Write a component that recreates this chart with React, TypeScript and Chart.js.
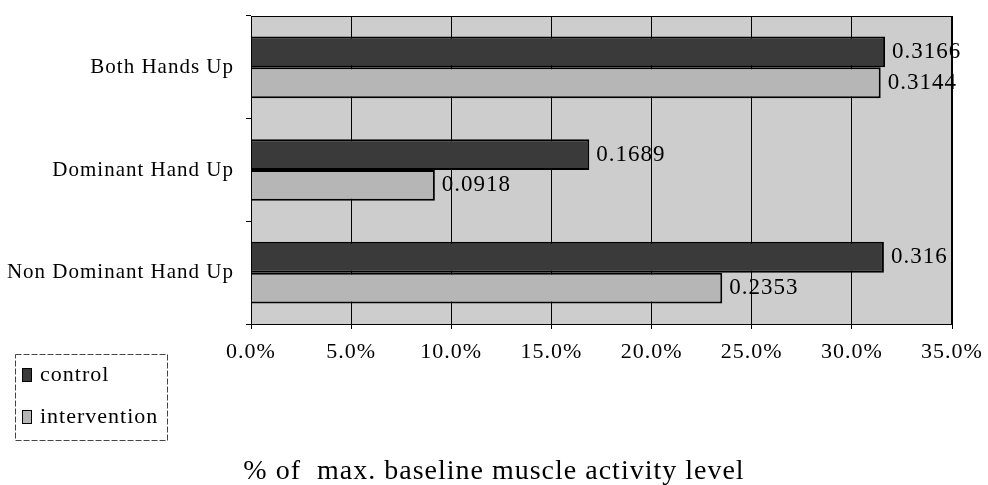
import React, { useEffect, useRef } from "react";
import { Chart, registerables } from "chart.js";

Chart.register(...registerables);

const categories = ["Both Hands Up", "Dominant Hand Up", "Non Dominant Hand Up"];
const controlValues = [0.3166, 0.1689, 0.316];
const interventionValues = [0.3144, 0.0918, 0.2353];
const seriesNames = ["control", "intervention"];
const axisTitle = "% of  max. baseline muscle activity level";
const xMin = 0;
const xMax = 0.35;
const xStep = 0.05;

const FONT = "'Liberation Serif', 'Times New Roman', serif";
const PLOT_BG = "#cdcdcd";
const CONTROL_COLOR = "#3a3a3a";
const INTERVENTION_COLOR = "#b6b6b6";

const spacingPlugin = {
  id: "spacing",
  beforeDraw(chart: any) {
    (chart.ctx as any).letterSpacing = "1px";
  },
  afterDraw(chart: any) {
    (chart.ctx as any).letterSpacing = "0px";
  },
};

const plotBgPlugin = {
  id: "plotBg",
  beforeDraw(chart: any) {
    const { ctx, chartArea } = chart;
    ctx.save();
    ctx.fillStyle = "#ffffff";
    ctx.fillRect(0, 0, chart.width, chart.height);
    ctx.fillStyle = PLOT_BG;
    ctx.fillRect(chartArea.left, chartArea.top, chartArea.right - chartArea.left, chartArea.bottom - chartArea.top);
    ctx.restore();
  },
};

const borderAndLabelsPlugin = {
  id: "borderLabels",
  afterDatasetsDraw(chart: any) {
    const { ctx, chartArea } = chart;
    ctx.save();
    ctx.letterSpacing = "1px";
    // plot border
    ctx.strokeStyle = "#000";
    ctx.lineWidth = 1;
    ctx.strokeRect(chartArea.left + 0.5, chartArea.top + 0.5, chartArea.right - chartArea.left - 1, chartArea.bottom - chartArea.top);
    // value labels
    ctx.fillStyle = "#000";
    ctx.font = `23px ${FONT}`;
    ctx.textAlign = "left";
    ctx.textBaseline = "middle";
    chart.data.datasets.forEach((ds: any, di: number) => {
      const meta = chart.getDatasetMeta(di);
      meta.data.forEach((bar: any, i: number) => {
        ctx.fillText(String(ds.data[i]), bar.x + 7, bar.y);
      });
    });
    ctx.restore();
  },
  afterDraw(chart: any) {
    const { ctx } = chart;
    ctx.save();
    ctx.letterSpacing = "1px";
    // legend
    const bx = 15, by = 354, bw = 152, bh = 86;
    ctx.strokeStyle = "#444";
    ctx.lineWidth = 1;
    ctx.setLineDash([6, 2]);
    ctx.strokeRect(bx + 0.5, by + 0.5, bw, bh);
    ctx.setLineDash([]);
    const rows = [375, 417];
    ctx.font = `22px ${FONT}`;
    ctx.textBaseline = "middle";
    ctx.textAlign = "left";
    chart.data.datasets.forEach((ds: any, i: number) => {
      const y = rows[i];
      ctx.fillStyle = ds.backgroundColor;
      ctx.fillRect(22, y - 7, 10, 14);
      ctx.strokeStyle = "#000";
      ctx.lineWidth = 1;
      ctx.strokeRect(22.5, y - 6.5, 9, 13);
      ctx.fillStyle = "#000";
      ctx.fillText(ds.label, 40, y);
    });
    // axis title
    ctx.font = `28px ${FONT}`;
    ctx.textAlign = "center";
    ctx.textBaseline = "alphabetic";
    ctx.fillText(axisTitle, chart.width / 2, 479);
    ctx.restore();
  },
};

export default function App() {
  const ref = useRef<HTMLCanvasElement>(null);
  useEffect(() => {
    if (!ref.current) return;
    const chart = new Chart(ref.current, {
      type: "bar",
      data: {
        labels: categories,
        datasets: [
          {
            label: seriesNames[0],
            data: controlValues,
            backgroundColor: CONTROL_COLOR,
            borderColor: "#000",
            borderWidth: 2,
            borderSkipped: "start",
            categoryPercentage: 0.6,
            barPercentage: 1.0,
          },
          {
            label: seriesNames[1],
            data: interventionValues,
            backgroundColor: INTERVENTION_COLOR,
            borderColor: "#000",
            borderWidth: 2,
            borderSkipped: "start",
            categoryPercentage: 0.6,
            barPercentage: 1.0,
          },
        ],
      },
      options: {
        indexAxis: "y",
        responsive: false,
        animation: false,
        layout: { padding: { left: 0, right: 36, top: 16, bottom: 0 } },
        plugins: {
          legend: { display: false },
          tooltip: { enabled: false },
          title: { display: false },
        },
        scales: {
          x: {
            type: "linear",
            min: xMin,
            max: xMax,
            ticks: {
              stepSize: xStep,
              color: "#000",
              font: { family: FONT, size: 22 },
              padding: 10,
              maxRotation: 0,
              callback: (v: any) => (Number(v) * 100).toFixed(1) + "%",
            },
            grid: { color: "#000", lineWidth: 1, tickLength: 5, drawTicks: true },
            border: { display: true, color: "#000", width: 1 },
            afterFit: (scale: any) => {
              scale.height = 161;
              scale.paddingLeft = 0;
              scale.paddingRight = 0;
            },
          },
          y: {
            type: "category",
            ticks: {
              color: "#000",
              font: { family: FONT, size: 21 },
              padding: 12,
            },
            grid: { drawOnChartArea: false, color: "#000", tickLength: 5, offset: true },
            border: { display: true, color: "#000", width: 1 },
            afterFit: (scale: any) => {
              scale.width = 251;
              scale.paddingTop = 0;
              scale.paddingBottom = 0;
            },
          },
        },
      },
      plugins: [spacingPlugin, plotBgPlugin, borderAndLabelsPlugin],
    } as any);
    return () => chart.destroy();
  }, []);
  return (
    <div style={{ position: "fixed", left: 0, top: 0, width: 988, height: 485, background: "#fff" }}>
      <canvas ref={ref} width={988} height={485} style={{ width: 988, height: 485, display: "block" }} />
    </div>
  );
}
